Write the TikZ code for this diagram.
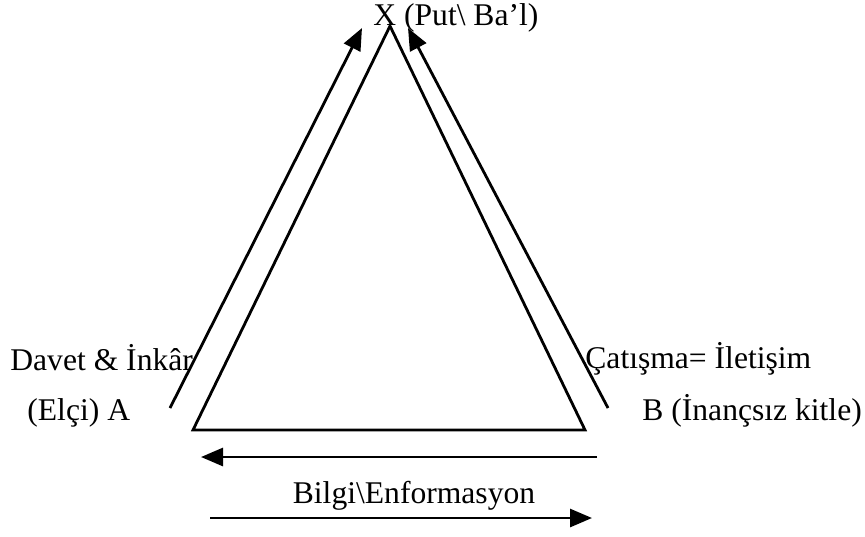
\documentclass[tikz,border=0pt]{standalone}
\usepackage{fontspec}
\setmainfont{Liberation Serif}
\usepackage{tikz}
\usetikzlibrary{arrows.meta, positioning}
\tikzset{
  side/.style={line width=1.4pt, color=black},
  arrow/.style={-{Triangle[length=11pt, width=9pt]}, line width=1.4pt, color=black},
  label/.style={font=\fontsize{15.8}{18}\selectfont, inner sep=0pt},
}
\begin{document}
\begin{tikzpicture}[x=0.5pt, y=-0.5pt]

  \useasboundingbox (0,0) rectangle (865,536);

  % triangle corners
  \coordinate (top) at (390,26);
  \coordinate (left) at (193,430);
  \coordinate (right) at (585,430);

  % free ends of the arrows
  \coordinate (ls) at (170,408);
  \coordinate (lt) at (362,28);
  \coordinate (rs) at (608,408);
  \coordinate (rt) at (408,28);
  \coordinate (b1s) at (597,457);
  \coordinate (b1t) at (201,457);
  \coordinate (b2s) at (210,518);
  \coordinate (b2t) at (592,518);

  \node[label, anchor=base west] (x) at (373,25) {X (Put\textbackslash{} Ba’l)};
  \node[label, anchor=base west] (davet) at (10,370) {Davet \& İnkâr};
  \node[label, anchor=base west] (a) at (27,420) {(Elçi) A};
  \node[label, anchor=base west] (catisma) at (585,368) {Çatışma= İletişim};
  \node[label, anchor=base west] (b) at (642,420) {B (İnançsız kitle)};
  \node[label, anchor=base] (bilgi) at (414,503) {Bilgi\textbackslash Enformasyon};

  \draw[side] (left) -- (top) -- (right) -- cycle;
  \draw[arrow] (ls) -- (lt);
  \draw[arrow] (rs) -- (rt);
  \draw[arrow] (b1s) -- (b1t);
  \draw[arrow] (b2s) -- (b2t);

\end{tikzpicture}
\end{document}
